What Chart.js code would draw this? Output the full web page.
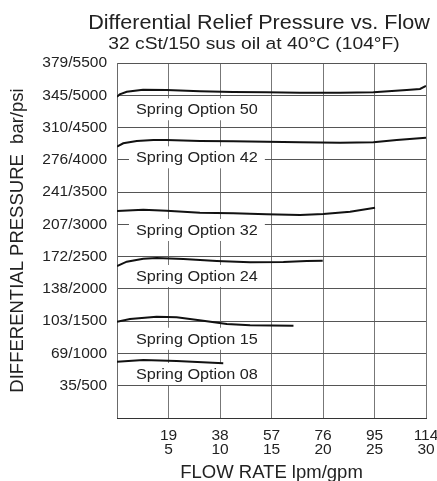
<!DOCTYPE html>
<html>
<head>
<meta charset="utf-8">
<script src="https://cdn.jsdelivr.net/npm/chart.js@4"></script>
<style>
  html, body { margin: 0; padding: 0; background: #fff; }
  canvas { display: block; }
</style>
</head>
<body>
<canvas id="chart" width="437" height="481"></canvas>
<script>
// Axis ticks: flow in lpm / gpm, pressure in bar / psi
const lpmTicks = [19, 38, 57, 76, 95, 114];
const gpmTicks = [5, 10, 15, 20, 25, 30];
const psiTicks = [500, 1000, 1500, 2000, 2500, 3000, 3500, 4000, 4500, 5000, 5500];
const barTicks = [35, 69, 103, 138, 172, 207, 241, 276, 310, 345, 379];

// Curves (flow lpm, pressure psi)
const seriesNames = ['Spring Option 50', 'Spring Option 42', 'Spring Option 32', 'Spring Option 24', 'Spring Option 15', 'Spring Option 08'];
const flow50 = [0, 1, 3.6, 9.6, 18.3, 30.6, 42.8, 55.2, 67.5, 82.3, 94.6, 106.9, 111.8, 114];
const psi50  = [4975, 5015, 5055, 5086, 5082, 5062, 5051, 5046, 5040, 5040, 5046, 5082, 5097, 5144];
const flow42 = [0, 2.3, 7.3, 13.4, 18.3, 30.6, 42.8, 55.2, 67.5, 82.3, 94.6, 103.2, 114];
const psi42  = [4205, 4256, 4292, 4307, 4307, 4292, 4287, 4281, 4271, 4265, 4271, 4307, 4343];
const flow32 = [0, 9.7, 18.3, 30.6, 42.9, 55.2, 67.5, 76.1, 86.0, 95.2];
const psi32  = [3207, 3227, 3212, 3181, 3171, 3156, 3145, 3161, 3196, 3258];
const flow24 = [0, 3.6, 9.7, 14.6, 24.5, 36.8, 49.1, 61.4, 70.0, 75.9];
const psi24  = [2355, 2422, 2468, 2479, 2463, 2432, 2412, 2417, 2432, 2437];
const flow15 = [0, 4.8, 14.6, 22.0, 31.8, 40.5, 49.1, 65.1];
const psi15  = [1492, 1534, 1570, 1560, 1507, 1456, 1436, 1430];
const flow08 = [0, 9.7, 22.0, 39.2];
const psi08  = [872, 899, 883, 847];

const FONT = '"Liberation Sans", Arial, Helvetica, sans-serif';
const STRETCH = 1.12;   // source artwork is a bit wide

function pts(xs, ys) { return xs.map((x, i) => ({ x: x, y: ys[i] })); }

const curves = [[flow50, psi50], [flow42, psi42], [flow32, psi32], [flow24, psi24], [flow15, psi15], [flow08, psi08]];

// label anchors in data units (flow, psi) and the two title lines
const LABEL_SIZE = 14.5;
const labelAnchors = [[7, 4783], [7, 4039], [7, 2913], [7, 2200], [7, 1228], [7, 682]];
const titleLines = [
  { text: 'Differential Relief Pressure vs. Flow', size: 19.3, x: 259, y: 22 },
  { text: '32 cSt/150 sus oil at 40°C (104°F)', size: 17.2, x: 254, y: 42.8 }
];

// white-boxed labels under each curve (drawn before the curves)
const springLabels = {
  id: 'springLabels',
  beforeDatasetsDraw(chart) {
    const { ctx, scales: { x, y } } = chart;
    ctx.save();
    ctx.font = `${LABEL_SIZE}px ${FONT}`;
    labelAnchors.forEach((p, i) => {
      const text = seriesNames[i];
      const w = ctx.measureText(text).width * STRETCH;
      const px = x.getPixelForValue(p[0]);
      const py = y.getPixelForValue(p[1]);
      ctx.fillStyle = '#fff';
      ctx.fillRect(px - 7, py - 11, w + 14, 22);
      ctx.save();
      ctx.translate(px, py + LABEL_SIZE * 0.358);
      ctx.scale(STRETCH, 1);
      ctx.fillStyle = '#222';
      ctx.textAlign = 'left';
      ctx.textBaseline = 'alphabetic';
      ctx.fillText(text, 0, 0);
      ctx.restore();
    });
    ctx.restore();
  }
};

const titles = {
  id: 'titles',
  afterDraw(chart) {
    const ctx = chart.ctx;
    titleLines.forEach(l => {
      ctx.save();
      ctx.font = `${l.size}px ${FONT}`;
      ctx.translate(l.x, l.y + l.size * 0.358);
      ctx.scale(STRETCH, 1);
      ctx.fillStyle = '#222';
      ctx.textAlign = 'center';
      ctx.textBaseline = 'alphabetic';
      ctx.fillText(l.text, 0, 0);
      ctx.restore();
    });
  }
};

const canvas = document.getElementById('chart');
canvas.getContext('2d', { willReadFrequently: true });

new Chart(canvas, {
  type: 'line',
  data: {
    datasets: curves.map((c, i) => ({
      label: seriesNames[i],
      data: pts(c[0], c[1]),
      borderColor: '#111',
      borderWidth: 2,
      pointRadius: 0,
      tension: 0
    }))
  },
  options: {
    responsive: false,
    animation: false,
    layout: { padding: { top: 63, right: 11 } },
    plugins: { legend: { display: false } },
    scales: {
      x: {
        type: 'linear',
        min: 0, max: 114,
        border: { display: true, color: '#333', width: 1 },
        grid: { color: '#777', lineWidth: 1, drawTicks: false },
        ticks: {
          stepSize: 19, autoSkip: false, maxRotation: 0, padding: 10.5,
          color: '#222',
          font: { family: FONT, size: 15.5, lineHeight: 0.9 },
          callback: v => {
            const i = lpmTicks.indexOf(v);
            return i < 0 ? '' : [String(lpmTicks[i]), String(gpmTicks[i])];
          }
        },
        title: {
          display: true, text: 'FLOW RATE lpm/gpm', color: '#222',
          font: { family: FONT, size: 18.5, lineHeight: 0.9 },
          padding: 0
        },
        afterFit: s => { s.height = 63; s.paddingLeft = 0; s.paddingRight = 0; }
      },
      y: {
        type: 'linear',
        min: 0, max: 5500,
        grid: { color: '#555', lineWidth: 1, drawTicks: false },
        ticks: {
          stepSize: 500, autoSkip: false, padding: 10,
          color: '#222',
          font: { family: FONT, size: 15.5 },
          callback: v => {
            const i = psiTicks.indexOf(v);
            return i < 0 ? '' : barTicks[i] + '/' + psiTicks[i];
          }
        },
        title: {
          display: true, text: 'DIFFERENTIAL PRESSURE  bar/psi', color: '#222',
          font: { family: FONT, size: 18.5, lineHeight: 1 },
          padding: { top: 9, bottom: 0 }
        },
        afterFit: s => { s.width = 117; s.paddingTop = 0; s.paddingBottom = 0; }
      }
    }
  },
  plugins: [springLabels, titles]
});
</script>
</body>
</html>
